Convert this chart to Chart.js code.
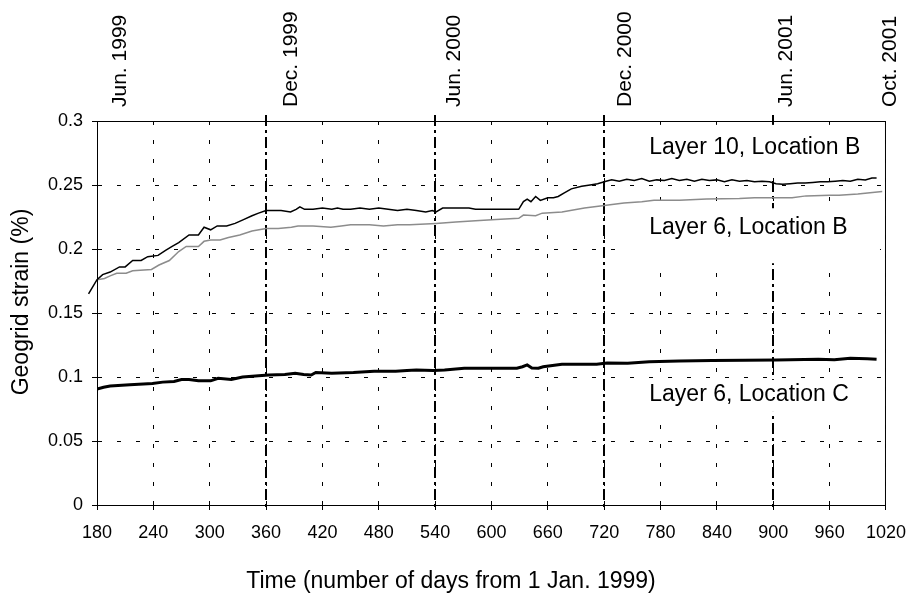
<!DOCTYPE html>
<html>
<head>
<meta charset="utf-8">
<script src="https://cdn.jsdelivr.net/npm/chart.js@4.4.0/dist/chart.umd.min.js"></script>
<style>
  html, body { margin: 0; padding: 0; background: #fff; }
  canvas { display: block; }
</style>
</head>
<body>
<canvas id="strainChart" width="918" height="593"></canvas>
<script>
// [day from 1 Jan. 1999, strain %]
const layer10B = [
  [171,0.165],[180,0.176],[186,0.180],[194,0.182],[204,0.186],[210,0.186],[218,0.191],[227,0.191],
  [234,0.194],[245,0.195],[253,0.199],[260,0.202],[267,0.205],[278,0.211],[288,0.211],[294,0.217],
  [301,0.215],[308,0.218],[318,0.218],[327,0.220],[336,0.223],[345,0.226],[352,0.228],[360,0.230],
  [376,0.230],[386,0.229],[392,0.231],[396,0.233],[401,0.231],[410,0.231],[420,0.232],[430,0.231],
  [436,0.232],[442,0.231],[450,0.231],[460,0.232],[470,0.231],[480,0.232],[490,0.231],[500,0.230],
  [510,0.231],[520,0.230],[530,0.229],[537,0.230],[541,0.229],[548,0.232],[576,0.232],[583,0.231],
  [605,0.231],[629,0.231],[634,0.237],[638,0.239],[642,0.237],[647,0.241],[652,0.238],[660,0.240],
  [666,0.240],[671,0.241],[678,0.244],[685,0.247],[696,0.249],[705,0.250],[713,0.251],[722,0.253],
  [728,0.254],[736,0.253],[744,0.2545],[752,0.2535],[760,0.255],[768,0.253],[776,0.254],[784,0.2535],
  [792,0.255],[800,0.2535],[808,0.2545],[816,0.253],[824,0.2545],[832,0.2535],[840,0.254],[848,0.2525],
  [856,0.254],[864,0.253],[872,0.2535],[880,0.2525],[888,0.253],[896,0.2525],[903,0.251],[910,0.2505],
  [918,0.251],[926,0.2515],[934,0.2515],[942,0.252],[950,0.2525],[958,0.2525],[966,0.253],[974,0.2535],
  [982,0.253],[990,0.2545],[998,0.254],[1005,0.2555],[1010,0.2555]
];

const layer6B = [
  [180,0.176],[188,0.177],[194,0.179],[201,0.181],[211,0.181],[218,0.183],[238,0.184],[246,0.1875],
  [257,0.191],[267,0.198],[275,0.202],[288,0.202],[294,0.206],[301,0.207],[311,0.207],[320,0.209],
  [332,0.211],[345,0.214],[360,0.216],[373,0.216],[387,0.217],[394,0.218],[410,0.218],[429,0.217],
  [440,0.218],[450,0.219],[470,0.219],[485,0.218],[500,0.219],[513,0.219],[541,0.220],[562,0.221],
  [583,0.222],[605,0.223],[629,0.224],[634,0.2265],[647,0.226],[654,0.228],[675,0.229],[699,0.232],
  [720,0.234],[741,0.236],[760,0.237],[773,0.238],[800,0.238],[829,0.239],[864,0.2395],[880,0.240],
  [903,0.240],[920,0.240],[935,0.2415],[960,0.242],[970,0.242],[990,0.243],[1016,0.245]
];

const layer6C = [
  [180,0.0905],[187,0.092],[194,0.093],[215,0.094],[239,0.095],[250,0.096],[262,0.0965],[270,0.098],
  [278,0.098],[288,0.097],[301,0.097],[309,0.099],[323,0.098],[335,0.100],[352,0.101],[363,0.1015],
  [380,0.102],[391,0.103],[400,0.102],[408,0.1015],[413,0.1035],[430,0.103],[453,0.1035],[475,0.1045],
  [498,0.1045],[510,0.105],[520,0.1055],[538,0.105],[550,0.1055],[571,0.1068],[627,0.1068],[633,0.108],
  [638,0.1094],[643,0.107],[650,0.1068],[655,0.108],[675,0.110],[712,0.110],[723,0.111],[745,0.1107],
  [768,0.112],[800,0.1125],[835,0.1128],[870,0.113],[903,0.1133],[948,0.1138],[965,0.1135],[982,0.1146],
  [1000,0.1142],[1010,0.1138]
];

const eventDays = [360, 540, 720, 900];
const dateLabels = ['Jun. 1999', 'Dec. 1999', 'Jun. 2000', 'Dec. 2000', 'Jun. 2001', 'Oct. 2001'];
const dateLabelDays = [205, 387, 560, 742, 914, 1024];
const seriesNames = ['Layer 10, Location B', 'Layer 6, Location B', 'Layer 6, Location C'];
const seriesNameStrain = [0.279, 0.217, 0.086];
const seriesNameDay = 768;

const FONT = "'Liberation Sans', Arial, sans-serif";
Chart.defaults.color = '#000';
Chart.defaults.font.family = FONT;

// white text boxes behind the series names (above / below the text centre)
const boxPad = [{up: 23, down: 30}, {up: 19, down: 36}, {up: 15, down: 17}];

function toPoints(arr) {
  return arr.map(p => ({x: p[0], y: p[1]}));
}

const decor = {
  id: 'decor',
  beforeDatasetsDraw(chart) {
    const {ctx, chartArea: a, scales: {x, y}} = chart;
    ctx.save();
    ctx.strokeStyle = '#000';
    ctx.lineWidth = 2;
    ctx.setLineDash([11, 4, 3, 4]);
    eventDays.forEach(d => {
      const px = Math.round(x.getPixelForValue(d));
      ctx.beginPath();
      ctx.moveTo(px, a.top - 6);
      ctx.lineTo(px, a.bottom + 6);
      ctx.stroke();
    });
    ctx.fillStyle = '#fff';
    const bx = x.getPixelForValue(seriesNameDay) - 20;
    seriesNameStrain.forEach((v, i) => {
      const cy = y.getPixelForValue(v);
      ctx.fillRect(bx, cy - boxPad[i].up, a.right - 6 - bx, boxPad[i].up + boxPad[i].down);
    });
    ctx.restore();
  },
  afterDraw(chart) {
    const {ctx, chartArea: a, scales: {x, y}} = chart;
    ctx.save();
    // frame
    ctx.strokeStyle = '#000';
    ctx.lineWidth = 1;
    ctx.setLineDash([]);
    ctx.strokeRect(a.left + 0.5, a.top + 0.5, a.right - a.left - 1, a.bottom - a.top);

    ctx.fillStyle = '#000';
    // date labels above plot
    ctx.font = '21px ' + FONT;
    ctx.textAlign = 'left';
    ctx.textBaseline = 'middle';
    dateLabels.forEach((t, i) => {
      ctx.save();
      ctx.translate(x.getPixelForValue(dateLabelDays[i]), 107);
      ctx.rotate(-Math.PI / 2);
      ctx.fillText(t, 0, 0);
      ctx.restore();
    });

    // series names
    ctx.font = '23px ' + FONT;
    seriesNames.forEach((t, i) => {
      ctx.fillText(t, x.getPixelForValue(seriesNameDay), y.getPixelForValue(seriesNameStrain[i]));
    });

    // axis titles
    ctx.textAlign = 'center';
    ctx.fillText('Time (number of days from 1 Jan. 1999)', 451, 582);
    ctx.save();
    ctx.translate(22, 302);
    ctx.rotate(-Math.PI / 2);
    ctx.fillText('Geogrid strain (%)', 0, 0);
    ctx.restore();
    ctx.restore();
  }
};

const gridOpts = {
  color: '#000',
  lineWidth: 1,
  tickLength: 5,
  tickColor: '#000',
  tickBorderDash: []
};

new Chart(document.getElementById('strainChart'), {
  type: 'line',
  data: {
    datasets: [
      {label: seriesNames[0], data: toPoints(layer10B), borderColor: '#000', borderWidth: 1.5, clip: false},
      {label: seriesNames[1], data: toPoints(layer6B), borderColor: '#8c8c8c', borderWidth: 1.5},
      {label: seriesNames[2], data: toPoints(layer6C), borderColor: '#000', borderWidth: 3}
    ]
  },
  options: {
    responsive: false,
    animation: false,
    devicePixelRatio: 1,
    layout: {padding: {left: 0, top: 121, right: 24, bottom: 0}},
    elements: {point: {radius: 0}, line: {tension: 0}},
    plugins: {legend: {display: false}, tooltip: {enabled: false}},
    scales: {
      x: {
        type: 'linear',
        min: 180,
        max: 1020,
        grid: gridOpts,
        border: {color: '#000', width: 1, dash: [4, 15]},
        ticks: {stepSize: 60, padding: 12, font: {size: 18}, maxRotation: 0, callback: v => String(v)},
        afterFit(s) { s.height = 88; }
      },
      y: {
        min: 0,
        max: 0.3,
        grid: gridOpts,
        border: {color: '#000', width: 1, dash: [4, 15]},
        ticks: {stepSize: 0.05, padding: 9, font: {size: 18}, callback: v => String(+v.toFixed(2))},
        afterFit(s) { s.width = 97; }
      }
    }
  },
  plugins: [decor]
});
</script>
</body>
</html>
